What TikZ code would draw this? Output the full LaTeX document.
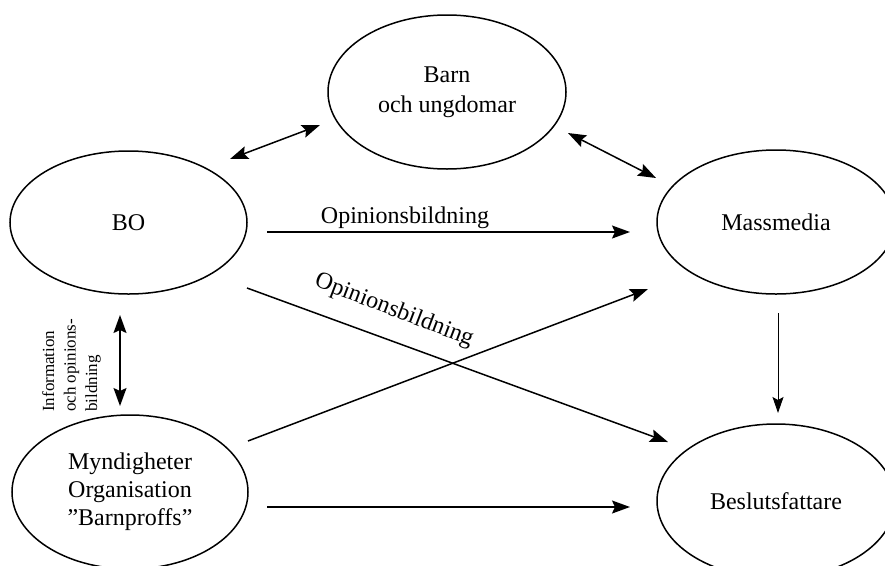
\documentclass[tikz,border=0pt]{standalone}
\usepackage{fontspec}
\setmainfont{Liberation Serif}
\usetikzlibrary{shapes.geometric,arrows.meta,calc}
\begin{document}
\begin{tikzpicture}[x=1pt,y=-1pt,
  ell/.style={draw, ellipse, line width=1.5pt, inner sep=0pt, align=center, font=\fontsize{24}{30}\selectfont},
  conn/.style={line width=1.5pt, -{Stealth[length=18pt,width=13pt,inset=3pt]}},
  biconn/.style={line width=1.5pt, {Stealth[length=18pt,width=13pt,inset=3pt]}-{Stealth[length=18pt,width=13pt,inset=3pt]}},
  thinconn/.style={line width=1pt, -{Stealth[length=16pt,width=11pt,inset=3pt]}},
  lbl/.style={font=\fontsize{24}{28}\selectfont, inner sep=0pt}]
\useasboundingbox (0,0) rectangle (885,565);
\clip (0,0) rectangle (885,565);

\node[ell, minimum width=238pt, minimum height=154pt] (barn) at (447,92) {Barn\\och ungdomar};
\node[ell, minimum width=237pt, minimum height=143pt] (bo) at (128.5,222.5) {BO};
\node[ell, minimum width=238pt, minimum height=144pt] (mass) at (776,222) {Massmedia};
\node[ell, minimum width=236pt, minimum height=154pt, font=\fontsize{24}{28}\selectfont] (mynd) at (130,492) {Myndigheter\\Organisation\\”Barnproffs”};
\node[ell, minimum width=238pt, minimum height=154pt] (besl) at (776,501) {Beslutsfattare};

\draw[biconn] ($(bo)+(101.5,-63.5)$) -- ($(barn)+(-127,33)$);
\draw[biconn] ($(barn)+(121,41)$) -- ($(mass)+(-120,-44)$);
\draw[conn] ($(bo)+(138.5,9.5)$) -- ($(mass)+(-146,10)$);
\draw[conn] ($(bo)+(118.5,65.5)$) -- ($(besl)+(-108,-59)$);
\draw[conn] ($(mynd)+(118,-51)$) -- ($(mass)+(-128,67)$);
\draw[conn] ($(mynd)+(137,15)$) -- ($(besl)+(-146,6)$);
\draw[thinconn] ($(mass)+(2,91)$) -- ($(besl)+(2,-88)$);
\draw[biconn] ($(bo)+(-8.5,92.5)$) -- ($(mynd)+(-10,-86)$);

\node[lbl, anchor=base] (op1) at (405,223) {Opinionsbildning};
\node[lbl, anchor=base, rotate=-21] (op2) at (392,316) {Opinionsbildning};
\node[inner sep=0pt, anchor=north west, rotate=90, align=left, font=\fontsize{17}{21.5}\selectfont] (info) at (42,412) {Information\\och opinions-\\bildning};
\end{tikzpicture}
\end{document}
